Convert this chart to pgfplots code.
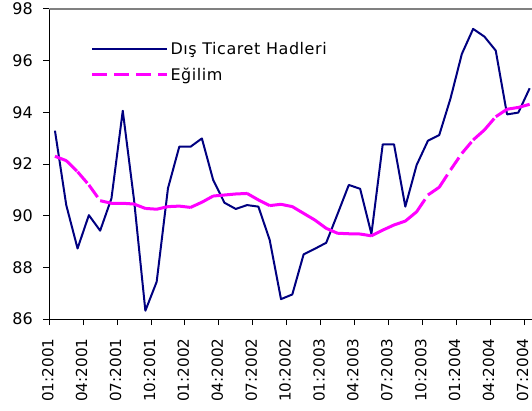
\documentclass[border=0pt]{standalone}
\usepackage{fontspec}
\setmainfont{DejaVu Sans}
\usepackage{pgfplots}
\pgfplotsset{compat=1.18}
\definecolor{navyline}{RGB}{0,0,128}
\definecolor{trendmag}{RGB}{255,0,255}
\definecolor{framegray}{RGB}{128,128,128}
\begin{document}
\fontsize{16pt}{19pt}\selectfont
\begin{tikzpicture}
\begin{axis}[
  scale only axis, width=486pt, height=310pt,
  xmin=0, xmax=43, ymin=86, ymax=98,
  axis x line*=bottom, axis y line*=left,
  axis line style={black, line width=1pt},
  ytick={86,88,...,98},
  xtick={0,3,...,42},
  xticklabels={01:2001,04:2001,07:2001,10:2001,01:2002,04:2002,07:2002,10:2002,01:2003,04:2003,07:2003,10:2003,01:2004,04:2004,07:2004},
  tick align=outside, major tick length=6pt,
  tick style={black, line width=1pt},
  xticklabel shift=8pt,
  yticklabel shift=5pt,
  xticklabel style={xshift=-1.5pt, rotate=90, anchor=east, font=\fontsize{15.2pt}{18pt}\selectfont},
  yticklabel style={font=\fontsize{16pt}{19pt}\selectfont},
  /pgf/number format/assume math mode=true,
  unbounded coords=jump,
  legend style={draw=none, fill=none, at={(axis description cs:0,1)}, anchor=north west,
    xshift=38pt, yshift=-29pt, legend cell align=left, row sep=6.7pt,
    font=\fontsize{16pt}{19pt}\selectfont\addfontfeature{LetterSpace=3.5}},
  legend image code/.code={\draw[#1] (0pt,0pt) -- (75pt,0pt);},
]
\addplot[navyline, line width=2pt, line join=round] coordinates {
(0.5,93.29) (1.5,90.41) (2.5,88.73) (3.5,90.02) (4.5,89.42) (5.5,90.67) (6.5,94.06) (7.5,90.6)
(8.5,86.32) (9.5,87.44) (10.5,91.06) (11.5,92.67) (12.5,92.67) (13.5,92.99) (14.5,91.38) (15.5,90.5)
(16.5,90.26) (17.5,90.41) (18.5,90.35) (19.5,89.06) (20.5,86.77) (21.5,86.95) (22.5,88.5) (23.5,88.72)
(24.5,88.95) (25.5,90.06) (26.5,91.19) (27.5,91.04) (28.5,89.29) (29.5,92.76) (30.5,92.76) (31.5,90.35)
(32.5,91.96) (33.5,92.9) (34.5,93.12) (35.5,94.54) (36.5,96.26) (37.5,97.23) (38.5,96.93) (39.5,96.39)
(40.5,93.92) (41.5,93.99) (42.5,94.93)
};
\addlegendentry{Dış Ticaret Hadleri}
\addplot[trendmag, line width=3pt, dash pattern=on 15pt off 7pt] coordinates {
(0.5,92.3) (1.5,92.13) (1.5,nan)
(1.5,92.13) (2.5,91.7) (2.5,nan)
(2.5,91.7) (3.5,91.19) (3.5,nan)
(3.5,91.19) (4.5,90.58) (4.5,nan)
(4.5,90.58) (5.5,90.48) (5.5,nan)
(5.5,90.48) (6.5,90.48) (6.5,nan)
(6.5,90.48) (7.5,90.45) (7.5,nan)
(7.5,90.45) (8.5,90.28) (8.5,nan)
(8.5,90.28) (9.5,90.25) (9.5,nan)
(9.5,90.25) (10.5,90.35) (10.5,nan)
(10.5,90.35) (11.5,90.37) (11.5,nan)
(11.5,90.37) (12.5,90.32) (12.5,nan)
(12.5,90.32) (13.5,90.52) (13.5,nan)
(13.5,90.52) (14.5,90.76) (14.5,nan)
(14.5,90.76) (15.5,90.8) (15.5,nan)
(15.5,90.8) (16.5,90.84) (16.5,nan)
(16.5,90.84) (17.5,90.86) (17.5,nan)
(17.5,90.86) (18.5,90.61) (18.5,nan)
(18.5,90.61) (19.5,90.39) (19.5,nan)
(19.5,90.39) (20.5,90.44) (20.5,nan)
(20.5,90.44) (21.5,90.35) (21.5,nan)
(21.5,90.35) (22.5,90.09) (22.5,nan)
(22.5,90.09) (23.5,89.83) (23.5,nan)
(23.5,89.83) (24.5,89.51) (24.5,nan)
(24.5,89.51) (25.5,89.32) (25.5,nan)
(25.5,89.32) (26.5,89.3) (26.5,nan)
(26.5,89.3) (27.5,89.29) (27.5,nan)
(27.5,89.29) (28.5,89.22) (28.5,nan)
(28.5,89.22) (29.5,89.44) (29.5,nan)
(29.5,89.44) (30.5,89.64) (30.5,nan)
(30.5,89.64) (31.5,89.79) (31.5,nan)
(31.5,89.79) (32.5,90.15) (32.5,nan)
(32.5,90.15) (33.5,90.8) (33.5,nan)
(33.5,90.8) (34.5,91.1) (34.5,nan)
(34.5,91.1) (35.5,91.77) (35.5,nan)
(35.5,91.77) (36.5,92.41) (36.5,nan)
(36.5,92.41) (37.5,92.93) (37.5,nan)
(37.5,92.93) (38.5,93.32) (38.5,nan)
(38.5,93.32) (39.5,93.83) (39.5,nan)
(39.5,93.83) (40.5,94.12) (40.5,nan)
(40.5,94.12) (41.5,94.19) (41.5,nan)
(41.5,94.19) (42.5,94.31)
};
\addlegendentry{Eğilim}
\draw[framegray, line width=1.5pt] (rel axis cs:0,1) -- (rel axis cs:1,1) -- (rel axis cs:1,0);
\end{axis}
\pgfresetboundingbox
\path[use as bounding box] ([xshift=-49.3pt,yshift=-91pt]current axis.south west) rectangle ++(532pt,410pt);
\end{tikzpicture}
\end{document}
